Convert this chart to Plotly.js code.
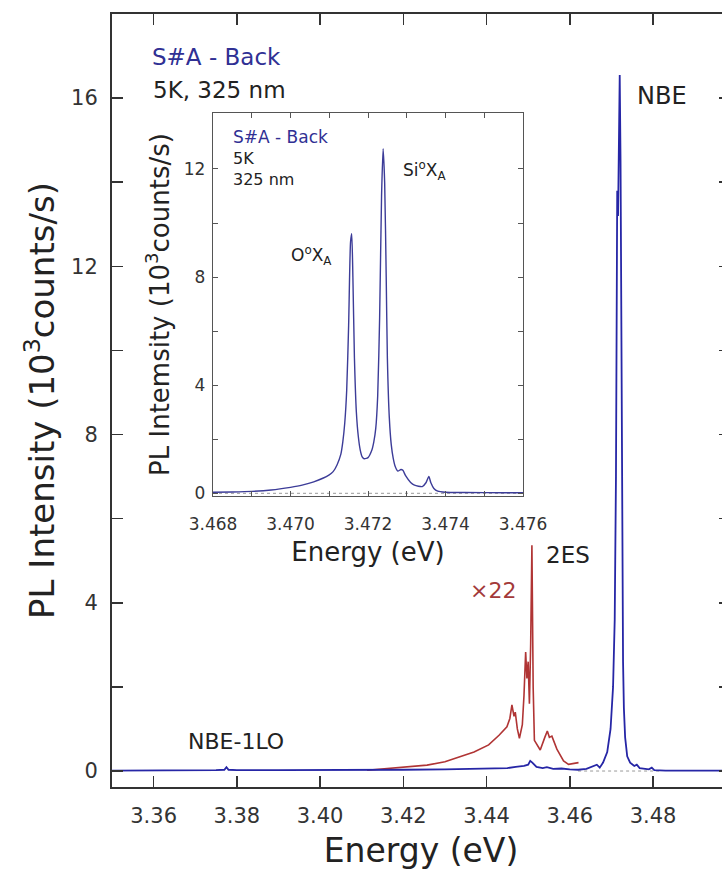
<!DOCTYPE html>
<html>
<head>
<meta charset="utf-8">
<script src="https://cdn.plot.ly/plotly-3.0.1.min.js"></script>
<style>
  html, body { margin: 0; padding: 0; background: #fff; overflow: hidden; }
  #chart { width: 740px; height: 879px; }
</style>
</head>
<body>
<div id="chart"></div>
<script>
// ---------- main spectrum (10^3 counts/s) ----------
const mainEnergy = [3.350, 3.360, 3.370, 3.375, 3.3770, 3.3775, 3.3780, 3.380, 3.390, 3.400,
  3.410, 3.420, 3.430, 3.435, 3.440, 3.443, 3.445, 3.447, 3.449, 3.450,
  3.4505, 3.451, 3.452, 3.4535, 3.4545, 3.456, 3.458, 3.460, 3.462, 3.464,
  3.4655, 3.4665, 3.4672, 3.468, 3.469, 3.4698, 3.4704, 3.4708, 3.4711, 3.4713,
  3.4714, 3.4716, 3.4718, 3.4720, 3.4722, 3.4724, 3.4726, 3.4728, 3.4730, 3.4733,
  3.4738, 3.4745, 3.4755, 3.4761, 3.4768, 3.478, 3.4790, 3.4797, 3.4803, 3.483,
  3.490, 3.4985];
const mainIntensity = [0.01, 0.01, 0.01, 0.02, 0.03, 0.09, 0.03, 0.02, 0.02, 0.02,
  0.02, 0.03, 0.04, 0.05, 0.06, 0.08, 0.07, 0.10, 0.12, 0.15,
  0.24, 0.20, 0.10, 0.07, 0.09, 0.05, 0.06, 0.04, 0.03, 0.05,
  0.10, 0.15, 0.08, 0.20, 0.45, 1.0, 2.0, 3.6, 7.0, 11.5,
  13.8, 13.2, 14.9, 16.55, 14.5, 10.5, 5.5, 2.6, 1.5, 0.8,
  0.35, 0.20, 0.12, 0.15, 0.07, 0.05, 0.04, 0.08, 0.02, 0.01,
  0.01, 0.01];

// ---------- x22 magnified region ----------
const x22Energy = [3.4113, 3.415, 3.420, 3.4257, 3.430, 3.4337, 3.437, 3.4405, 3.443, 3.4449,
  3.4456, 3.4461, 3.4466, 3.4469, 3.4474, 3.4479, 3.4486, 3.4490, 3.4494, 3.4497,
  3.4500, 3.4503, 3.4506, 3.4509, 3.4512, 3.4515, 3.4522, 3.4529, 3.4540, 3.4546,
  3.4551, 3.4557, 3.4569, 3.4585, 3.4597, 3.4621];
const x22Intensity = [0.02, 0.05, 0.09, 0.14, 0.22, 0.34, 0.45, 0.62, 0.85, 1.05,
  1.25, 1.57, 1.30, 1.40, 1.00, 0.78, 1.10, 1.80, 2.83, 2.20,
  2.60, 1.60, 3.00, 5.37, 2.00, 0.73, 0.62, 0.50, 0.80, 0.95,
  0.80, 0.83, 0.52, 0.24, 0.16, 0.20];

// ---------- inset spectrum ----------
const insetEnergy = [3.4680, 3.4685, 3.4690, 3.4695, 3.4700, 3.4703, 3.4706, 3.4710, 3.4711, 3.4712,
  3.4713, 3.47135, 3.4714, 3.47145, 3.4715, 3.47155, 3.47158, 3.47161, 3.47165, 3.4717,
  3.47175, 3.4718, 3.47185, 3.4719, 3.4720, 3.4721, 3.47215, 3.4722, 3.47225, 3.4723,
  3.47235, 3.47239, 3.47243, 3.47247, 3.4725, 3.47255, 3.4726, 3.47265, 3.4727, 3.47277,
  3.47285, 3.4729, 3.47297, 3.4731, 3.4732, 3.4734, 3.4735, 3.47357, 3.47362, 3.4737,
  3.4738, 3.4740, 3.4745, 3.4755, 3.4760];
const insetIntensity = [0.04, 0.05, 0.07, 0.12, 0.22, 0.30, 0.42, 0.68, 0.80, 1.05,
  1.45, 1.9, 2.6, 3.8, 6.2, 9.3, 9.6, 8.0, 5.0, 3.0,
  2.1, 1.6, 1.35, 1.28, 1.32, 1.6, 1.9, 2.4, 3.6, 6.5,
  11.0, 12.75, 11.5, 8.0, 5.0, 2.8, 1.8, 1.3, 1.0, 0.82,
  0.88, 0.85, 0.65, 0.40, 0.30, 0.25, 0.40, 0.62, 0.40, 0.18,
  0.08, 0.04, 0.03, 0.02, 0.02];

// ---------- ticks ----------
const mainXTickVals = [3.36, 3.38, 3.40, 3.42, 3.44, 3.46, 3.48];
const mainXTickText = ['3.36', '3.38', '3.40', '3.42', '3.44', '3.46', '3.48'];
const mainYTickVals = [0, 4, 8, 12, 16];
const mainYTickText = ['0', '4', '8', '12', '16'];
const mainYMinorVals = [2, 6, 10, 14];
const insetXTickVals = [3.468, 3.470, 3.472, 3.474, 3.476];
const insetXTickText = ['3.468', '3.470', '3.472', '3.474', '3.476'];
const insetXMinorVals = [3.469, 3.471, 3.473, 3.475];
const insetYTickVals = [0, 4, 8, 12];
const insetYTickText = ['0', '4', '8', '12'];
const insetYMinorVals = [2, 6, 10];
const mainZeroSpan = [3.462, 3.482];
const insetZeroSpan = [3.468, 3.476];

// ---------- layout helpers (pixel -> paper) ----------
const W = 740, H = 879, ML = 112, MR = 10, MT = 14, MB = 92;
const PW = W - ML - MR, PH = H - MT - MB;
const px = x => (x - ML) / PW;
const py = y => (H - MB - y) / PH;

const FONT = 'DejaVu Sans, Arial, sans-serif';
const BLUE = '#2626a6';
const TXTBLUE = '#303094';
const RED = '#b03434';

const traces = [
  { x: mainZeroSpan, y: [0, 0], xaxis: 'x', yaxis: 'y', mode: 'lines',
    line: { color: '#999', width: 1, dash: 'dot' }, hoverinfo: 'skip' },
  { x: x22Energy, y: x22Intensity, xaxis: 'x', yaxis: 'y', mode: 'lines',
    line: { color: RED, width: 1.6 } },
  { x: mainEnergy, y: mainIntensity, xaxis: 'x', yaxis: 'y', mode: 'lines',
    line: { color: BLUE, width: 1.8 } },
  { x: insetZeroSpan, y: [0, 0], xaxis: 'x2', yaxis: 'y2', mode: 'lines',
    line: { color: '#999', width: 1, dash: 'dot' }, hoverinfo: 'skip' },
  { x: insetEnergy, y: insetIntensity, xaxis: 'x2', yaxis: 'y2', mode: 'lines',
    line: { color: '#3c3c98', width: 1.4, shape: 'spline', smoothing: 0.6 } }
];

function ann(text, x, y, size, color, xanchor) {
  return { text: text, x: px(x), y: py(y), xref: 'paper', yref: 'paper',
    xanchor: xanchor || 'left', yanchor: 'middle', showarrow: false,
    font: { family: FONT, size: size, color: color || '#222' } };
}

const layout = {
  width: W, height: H,
  margin: { l: ML, r: MR, t: MT, b: MB, pad: 0 },
  paper_bgcolor: '#fff', plot_bgcolor: '#fff',
  showlegend: false,
  font: { family: FONT, color: '#222' },
  xaxis: {
    range: [3.35, 3.4985], tickmode: 'array', tickvals: mainXTickVals, ticktext: mainXTickText,
    ticks: 'inside', ticklen: 11, tickwidth: 1.6, tickcolor: '#333',
    showline: true, linewidth: 2, linecolor: '#333', mirror: 'ticks',
    showgrid: false, zeroline: false, ticklabelstandoff: 9,
    tickfont: { family: FONT, size: 21, color: '#333' },
    title: { text: 'Energy (eV)', standoff: 12, font: { family: FONT, size: 33, color: '#222' } }
  },
  yaxis: {
    range: [-0.38, 18], tickmode: 'array', tickvals: mainYTickVals, ticktext: mainYTickText,
    ticks: 'inside', ticklen: 11, tickwidth: 1.6, tickcolor: '#333',
    minor: { tickmode: 'array', tickvals: mainYMinorVals, ticks: 'inside', ticklen: 11,
      tickwidth: 1.6, tickcolor: '#333', showgrid: false },
    showline: true, linewidth: 2, linecolor: '#333', mirror: 'ticks',
    showgrid: false, zeroline: false, ticklabelstandoff: 8,
    tickfont: { family: FONT, size: 21, color: '#333' },
    title: { text: 'PL Intensity (10<sup>3</sup>counts/s)', standoff: 6,
      font: { family: FONT, size: 34, color: '#222' } }
  },
  xaxis2: {
    domain: [px(213), px(523)], anchor: 'y2',
    range: [3.468, 3.476], tickmode: 'array', tickvals: insetXTickVals, ticktext: insetXTickText,
    ticks: 'inside', ticklen: 5, tickwidth: 1, tickcolor: '#555',
    minor: { tickmode: 'array', tickvals: insetXMinorVals, ticks: 'inside', ticklen: 5,
      tickwidth: 1, tickcolor: '#555', showgrid: false },
    showline: true, linewidth: 1.2, linecolor: '#555', mirror: 'ticks',
    showgrid: false, zeroline: false, ticklabelstandoff: 12,
    tickfont: { family: FONT, size: 17, color: '#333' },
    title: { text: 'Energy (eV)', standoff: 10, font: { family: FONT, size: 26, color: '#222' } }
  },
  yaxis2: {
    domain: [py(496), py(113)], anchor: 'x2',
    range: [-0.1, 14.07], tickmode: 'array', tickvals: insetYTickVals, ticktext: insetYTickText,
    ticks: 'inside', ticklen: 5, tickwidth: 1, tickcolor: '#555',
    minor: { tickmode: 'array', tickvals: insetYMinorVals, ticks: 'inside', ticklen: 5,
      tickwidth: 1, tickcolor: '#555', showgrid: false },
    showline: true, linewidth: 1.2, linecolor: '#555', mirror: 'ticks',
    showgrid: false, zeroline: false, ticklabelstandoff: 3,
    tickfont: { family: FONT, size: 17, color: '#333' },
    title: { text: 'PL Intemsity (10<sup>3</sup>counts/s)', standoff: 6,
      font: { family: FONT, size: 26, color: '#222' } }
  },
  annotations: [
    ann('S#A - Back', 150, 57, 23, TXTBLUE),
    ann('5K, 325 nm', 151, 90, 23, '#222'),
    ann('NBE', 635, 96, 24, '#222'),
    ann('2ES', 568, 555, 23, '#222', 'center'),
    ann('\u00d722', 493, 590, 22, '#a33a3a', 'center'),
    ann('NBE-1LO', 236, 741, 22, '#222', 'center'),
    ann('S#A - Back', 231, 137, 17, TXTBLUE),
    ann('5K', 231, 159, 16, '#222'),
    ann('325 nm', 231, 180, 16, '#222'),
    ann('Si<sup>o</sup>X<sub>A</sub>', 401, 170, 17, '#222'),
    ann('O<sup>o</sup>X<sub>A</sub>', 289, 255, 17, '#222')
  ]
};

Plotly.newPlot('chart', traces, layout, { staticPlot: true, displayModeBar: false });
</script>
</body>
</html>
